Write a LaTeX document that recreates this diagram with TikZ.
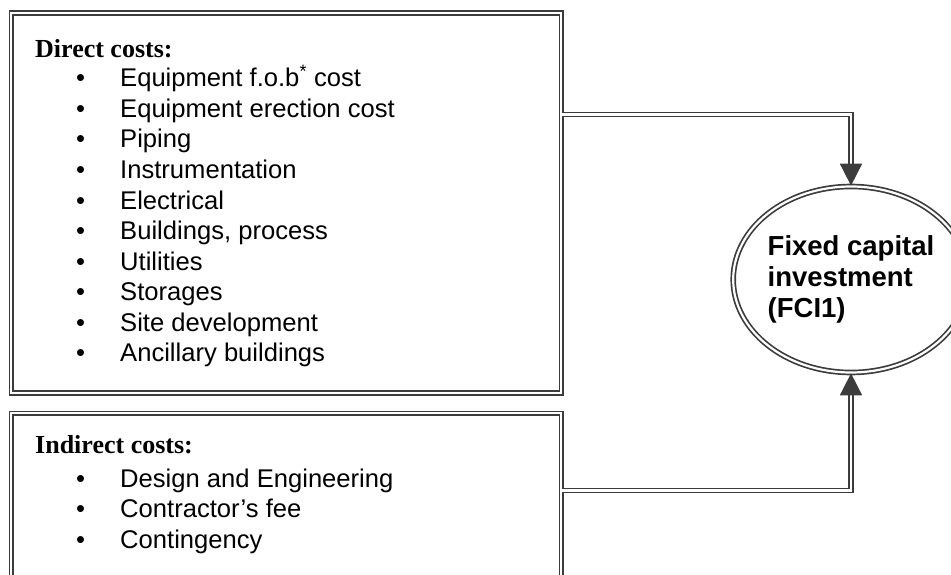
\documentclass[tikz,border=0pt]{standalone}
\usepackage{fontspec}
\setmainfont{Liberation Serif}
\setsansfont{Liberation Sans}
\usetikzlibrary{positioning, shapes.geometric, arrows.meta}

\definecolor{framegray}{HTML}{3C3C3C}
\tikzset{
    dbl/.style={draw=framegray, double, line width=1.7pt, double distance=2.2pt},
    costbox/.style={dbl, minimum width=550pt, inner sep=0pt, anchor=north west},
    head/.style={font=\bfseries\fontsize{26}{30}\selectfont, anchor=base west, inner sep=0pt},
    item/.style={font=\sffamily\fontsize{25.6}{30}\selectfont, anchor=base west, inner sep=0pt},
    link/.style={dbl, -{Triangle[length=22pt, width=22pt]}}
}

\begin{document}
\begin{tikzpicture}[x=1pt, y=-1pt]
    \useasboundingbox (0,0) rectangle (951,575);
    \clip (0,0) rectangle (951,575);

    \node[costbox, minimum height=380pt] (direct) at (10.5,12) {};
    \node[costbox, minimum height=200pt] (indirect) at (10.5,412.5) {};

    \node[head] (dhead) at (35,58) {Direct costs:};
    \foreach \txt [count=\i] in {Equipment f.o.b\textsuperscript{*} cost, Equipment erection cost, Piping,
        Instrumentation, Electrical, {Buildings, process}, Utilities, Storages, Site development,
        Ancillary buildings} {
        \node[item] (dbul\i) at (76,{87+30.5*(\i-1)}) {\textbullet};
        \node[item] (ditem\i) at (120,{87+30.5*(\i-1)}) {\txt};
    }

    \node[head] (ihead) at (35,453) {Indirect costs:};
    \foreach \txt [count=\i] in {Design and Engineering, Contractor’s fee, Contingency} {
        \node[item] (ibul\i) at (76,{487+30.5*(\i-1)}) {\textbullet};
        \node[item] (iitem\i) at (120,{487+30.5*(\i-1)}) {\txt};
    }

    \node[dbl, ellipse, minimum width=212pt, minimum height=186pt, inner sep=0pt, align=left,
        font=\sffamily\bfseries\fontsize{27.5}{31}\selectfont] (fci) at (851,279.5)
        {Fixed capital\\investment\\(FCI1)};

    \coordinate (dy) at (0,114.5);
    \coordinate (iy) at (0,490.5);
    \draw[link] (direct.east |- dy) -| (fci.north);
    \draw[link] (indirect.east |- iy) -| (fci.south);
\end{tikzpicture}
\end{document}
